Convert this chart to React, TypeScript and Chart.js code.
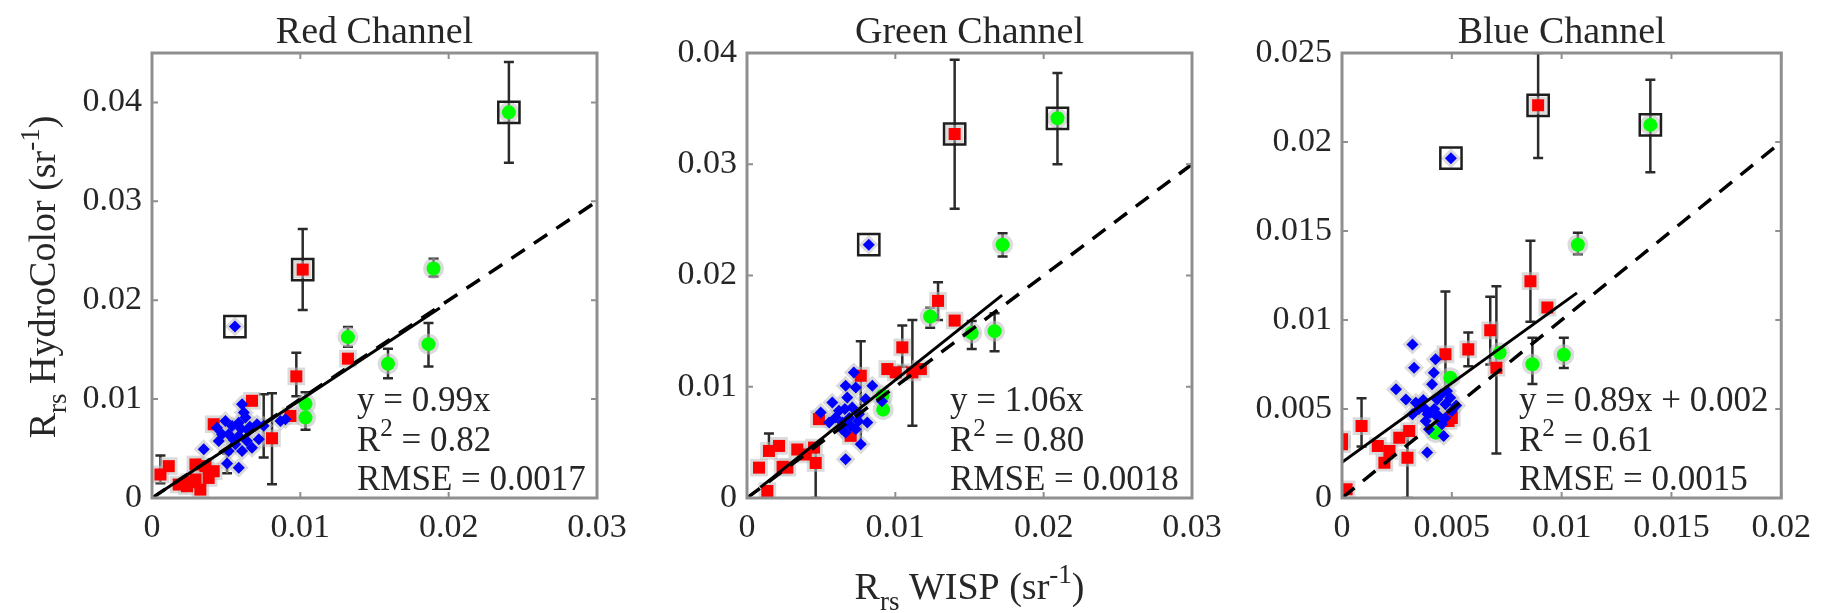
import { useEffect, useRef } from 'react';
import { Chart, registerables } from 'chart.js';

Chart.register(...registerables);

// Each point: [x, y] or [x, y, errLow, errHigh]
// ---------- Red channel panel ----------
const redBandBlue = [
  [0.00349, 0.00492], [0.00438, 0.00711], [0.00495, 0.00779], [0.00517, 0.00644],
  [0.00562, 0.00543], [0.00585, 0.00305], [0.00607, 0.00949], [0.0063, 0.00813],
  [0.00652, 0.00678], [0.00607, 0.00475], [0.00674, 0.00508], [0.00708, 0.00746],
  [0.00517, 0.00475], [0.0045, 0.00576], [0.0072, 0.00593], [0.00866, 0.00779],
  [0.009, 0.00797], [0.0054, 0.00729], [0.00472, 0.00644], [0.00585, 0.00627],
  [0.00619, 0.00864], [0.0064, 0.00576], [0.00585, 0.00762], [0.0066, 0.0072],
  [0.0055, 0.0059], [0.006, 0.007], [0.00506, 0.0035, 0.0025, 0.0045],
  [0.00753, 0.0073, 0.0041, 0.0105], [0.00559, 0.01734],
];
const redBandRed = [
  [0.00057, 0.00238, 0.0015, 0.0043], [0.00113, 0.00322], [0.0018, 0.00136],
  [0.00236, 0.00119], [0.00293, 0.00187], [0.00326, 0.00085], [0.0036, 0.00322],
  [0.00416, 0.00271], [0.00382, 0.00203], [0.00293, 0.00339], [0.0025, 0.0016],
  [0.00416, 0.00746], [0.00674, 0.00983], [0.00809, 0.00604, 0.0014, 0.0106],
  [0.00933, 0.0083], [0.00973, 0.0123, 0.0103, 0.0147], [0.01321, 0.01409],
  [0.01016, 0.0231, 0.019, 0.0272],
];
const redBandGreen = [
  [0.01035, 0.00952, 0.0069, 0.0107], [0.01035, 0.00813],
  [0.01321, 0.01627, 0.0153, 0.0173], [0.01591, 0.01357, 0.0121, 0.0151],
  [0.01864, 0.01556, 0.0133, 0.0177], [0.01898, 0.02321, 0.0224, 0.0242],
  [0.02406, 0.039, 0.0339, 0.0441],
];
const redBandOutliers = [[0.02406, 0.039], [0.01016, 0.0231], [0.00559, 0.01734]];

// ---------- Green channel panel ----------
const greenBandBlue = [
  [0.0072, 0.01129], [0.00665, 0.01009], [0.00733, 0.00994], [0.00497, 0.00768],
  [0.00575, 0.00859], [0.0062, 0.00784], [0.00676, 0.00904], [0.0071, 0.00814],
  [0.00755, 0.00754], [0.00643, 0.00679], [0.00699, 0.00649], [0.00665, 0.00589],
  [0.00811, 0.00679], [0.00845, 0.01009], [0.00767, 0.00484], [0.00665, 0.00349],
  [0.00598, 0.00723], [0.00733, 0.00619], [0.008, 0.00889], [0.00554, 0.00679],
  [0.0069, 0.0072], [0.0066, 0.008], [0.0075, 0.0069], [0.0064, 0.0062],
  [0.0091, 0.0087], [0.00821, 0.02277],
];
const greenBandRed = [
  [0.00081, 0.00273], [0.00137, 0.00063], [0.00148, 0.00423, 0.004, 0.0058],
  [0.00216, 0.00468], [0.00272, 0.00273], [0.0024, 0.0028], [0.00339, 0.00436],
  [0.00396, 0.00391], [0.00452, 0.00453], [0.00463, 0.00315, 0, 0.0049],
  [0.00485, 0.00709], [0.00699, 0.00559], [0.00767, 0.01099, 0.0049, 0.0141],
  [0.00946, 0.01159], [0.01003, 0.01129], [0.01047, 0.01354, 0.0118, 0.0155],
  [0.01115, 0.01129, 0.0065, 0.016], [0.01172, 0.01159],
  [0.01288, 0.01772, 0.016, 0.0194], [0.014, 0.01595], [0.014, 0.03272, 0.026, 0.0394],
];
const greenBandGreen = [
  [0.00913, 0.00919], [0.00918, 0.00794], [0.01235, 0.01631, 0.0153, 0.0171],
  [0.01515, 0.01483, 0.0134, 0.0159], [0.01669, 0.015, 0.0132, 0.0166],
  [0.01723, 0.02277, 0.0217, 0.0238], [0.02093, 0.03413, 0.03, 0.0382],
];
const greenBandOutliers = [[0.014, 0.03272], [0.02093, 0.03413], [0.00821, 0.02277]];

// ---------- Blue channel panel ----------
const blueBandBlue = [
  [0.00321, 0.00863], [0.00328, 0.00732], [0.00246, 0.00611], [0.00426, 0.00779],
  [0.00418, 0.00704], [0.0041, 0.00639], [0.00291, 0.00554], [0.00336, 0.00535],
  [0.00373, 0.00507], [0.00403, 0.00479], [0.0044, 0.00461], [0.00471, 0.00526],
  [0.00493, 0.00563], [0.005, 0.00489], [0.00381, 0.00433], [0.00455, 0.00414],
  [0.00321, 0.0047], [0.00396, 0.00386], [0.00463, 0.00348], [0.00388, 0.00255],
  [0.0035, 0.005], [0.00433, 0.00554], [0.00478, 0.00601], [0.0037, 0.0055],
  [0.0042, 0.005], [0.0047, 0.0045], [0.0039, 0.0047], [0.0045, 0.0058],
  [0.0043, 0.0046], [0.0052, 0.0052], [0.00496, 0.01909],
];
const blueBandRed = [
  [0, 0.00302], [0, 0.0033], [0.00089, 0.00404, 0.0029, 0.0056], [0.00021, 0.00049],
  [0.00163, 0.00292], [0.00193, 0.00198], [0.00216, 0.00264], [0.00261, 0.00339],
  [0.00306, 0.00376], [0.00298, 0.00226, 0, 0.0038], [0.00485, 0.00433], [0.005, 0.0045],
  [0.00471, 0.00807, 0.006, 0.0116], [0.00575, 0.00835, 0.0074, 0.0093],
  [0.00675, 0.00942, 0.0075, 0.0113], [0.00703, 0.00732, 0.0025, 0.0119],
  [0.00858, 0.01218, 0.0099, 0.01445], [0.00935, 0.0107],
  [0.00893, 0.02206, 0.0191, 0.025],
];
const blueBandGreen = [
  [0.00426, 0.00367], [0.00493, 0.00676], [0.00718, 0.00816],
  [0.00867, 0.00751, 0.0064, 0.009], [0.0101, 0.00805, 0.0073, 0.009],
  [0.01074, 0.01423, 0.0137, 0.0149], [0.01404, 0.02096, 0.0183, 0.0235],
];
const blueBandOutliers = [[0.00496, 0.01909], [0.00893, 0.02206], [0.01404, 0.02096]];

// ---------- Axes and fits ----------
const panelTitles = ['Red Channel', 'Green Channel', 'Blue Channel'];
const xMaxes = [0.03, 0.03, 0.02];
const yMaxes = [0.045, 0.04, 0.025];
const xSteps = [0.01, 0.01, 0.005];
const ySteps = [0.01, 0.01, 0.005];
const fitSlopes = [0.99, 1.06, 0.89];
const fitIntercepts = [0, 0, 0.002];
const fitXStart = [0.0003, 0.0009, 0];
const fitXEnd = [0.0194, 0.0172, 0.0107];
const eqLabels = ['y = 0.99x', 'y = 1.06x', 'y = 0.89x + 0.002'];
const r2Labels = ['0.82', '0.80', '0.61'];
const rmseLabels = ['0.0017', '0.0018', '0.0015'];

const panelBlue = [redBandBlue, greenBandBlue, blueBandBlue];
const panelRed = [redBandRed, greenBandRed, blueBandRed];
const panelGreen = [redBandGreen, greenBandGreen, blueBandGreen];
const panelOutliers = [redBandOutliers, greenBandOutliers, blueBandOutliers];

// ---------- Layout / style ----------
const W = 1821;
const H = 613;
const SERIF = '"Liberation Serif", "Times New Roman", serif';
const PANEL_LEFT = [152, 747, 1342];
const PANEL_SIZE = 445;
const PLOT_TOP = 53;
const PLOT_BOTTOM = 498;
const Y_AXIS_W = 90;
const X_AXIS_H = 60;
const STATS_DX = [205, 203, 177];
const STATS_BASE = [411, 451, 490];
const TEXT_COLOR = '#262626';
const FRAME_COLOR = '#8f8f8f';
const HALO = 'rgba(190,190,190,0.55)';

type Seg = [string, 'n' | 'sub' | 'sup'];

function drawRich(ctx: CanvasRenderingContext2D, segs: Seg[], size: number, x: number, y: number, align: 'left' | 'center') {
  const fontFor = (k: string) => `${k === 'n' ? size : Math.round(size * 0.7)}px ${SERIF}`;
  let total = 0;
  const widths = segs.map(([t, k]) => {
    ctx.font = fontFor(k);
    const w = ctx.measureText(t).width;
    total += w;
    return w;
  });
  let cx = align === 'center' ? x - total / 2 : x;
  ctx.textAlign = 'left';
  ctx.textBaseline = 'alphabetic';
  segs.forEach(([t, k], idx) => {
    ctx.font = fontFor(k);
    const dy = k === 'sub' ? size * 0.28 : k === 'sup' ? -size * 0.42 : 0;
    ctx.fillText(t, cx, y + dy);
    cx += widths[idx];
  });
}

const fmt = (v: any) => {
  const n = Number(v);
  return n === 0 ? '0' : String(parseFloat(n.toFixed(4)));
};

const toXY = (pts: number[][]) => pts.map((p) => ({ x: p[0], y: p[1] }));

function markerSet(pts: number[][], style: string, r: number, color: string, order: number) {
  return {
    type: 'scatter',
    data: toXY(pts),
    pointStyle: style,
    pointRadius: r,
    pointHoverRadius: r,
    pointBackgroundColor: color,
    pointBorderColor: color,
    pointBorderWidth: 0,
    showLine: false,
    order,
  };
}

function decorPlugin(i: number) {
  return {
    id: 'decor' + i,
    beforeDatasetsDraw(chart: any) {
      const { ctx, chartArea: a, scales } = chart;
      const xs = scales.x;
      const ys = scales.y;
      ctx.save();
      ctx.beginPath();
      ctx.rect(a.left, a.top, a.right - a.left, a.bottom - a.top);
      ctx.clip();
      ctx.strokeStyle = '#2b2b2b';
      ctx.lineWidth = 2.5;
      for (const set of [panelBlue[i], panelRed[i], panelGreen[i]]) {
        for (const pt of set) {
          if (pt.length < 4) continue;
          const px = xs.getPixelForValue(pt[0]);
          const lo = ys.getPixelForValue(pt[2]);
          const hi = ys.getPixelForValue(pt[3]);
          ctx.beginPath();
          ctx.moveTo(px, lo);
          ctx.lineTo(px, hi);
          ctx.moveTo(px - 5, lo);
          ctx.lineTo(px + 5, lo);
          ctx.moveTo(px - 5, hi);
          ctx.lineTo(px + 5, hi);
          ctx.stroke();
        }
      }
      ctx.restore();
    },
    afterDraw(chart: any) {
      const { ctx, chartArea: a, scales } = chart;
      const xs = scales.x;
      const ys = scales.y;
      ctx.save();
      // frame
      ctx.strokeStyle = FRAME_COLOR;
      ctx.lineWidth = 3;
      ctx.strokeRect(a.left, a.top, a.right - a.left, a.bottom - a.top);
      // inner ticks on all sides
      ctx.lineWidth = 2;
      ctx.beginPath();
      for (const t of xs.ticks) {
        const px = xs.getPixelForValue(t.value);
        ctx.moveTo(px, a.bottom);
        ctx.lineTo(px, a.bottom - 6);
        ctx.moveTo(px, a.top);
        ctx.lineTo(px, a.top + 6);
      }
      for (const t of ys.ticks) {
        const py = ys.getPixelForValue(t.value);
        ctx.moveTo(a.left, py);
        ctx.lineTo(a.left + 6, py);
        ctx.moveTo(a.right, py);
        ctx.lineTo(a.right - 6, py);
      }
      ctx.stroke();

      ctx.fillStyle = TEXT_COLOR;
      // title
      ctx.font = `38px ${SERIF}`;
      ctx.textAlign = 'center';
      ctx.textBaseline = 'alphabetic';
      ctx.fillText(panelTitles[i], (a.left + a.right) / 2, 43);

      // stats
      const sx = a.left + STATS_DX[i];
      drawRich(ctx, [[eqLabels[i], 'n']], 35, sx, STATS_BASE[0], 'left');
      drawRich(ctx, [['R', 'n'], ['2', 'sup'], [' = ' + r2Labels[i], 'n']], 35, sx, STATS_BASE[1], 'left');
      drawRich(ctx, [['RMSE = ' + rmseLabels[i], 'n']], 35, sx, STATS_BASE[2], 'left');

      // axis labels
      if (i === 0) {
        ctx.save();
        ctx.translate(55, 277);
        ctx.rotate(-Math.PI / 2);
        drawRich(ctx, [['R', 'n'], ['rs', 'sub'], [' HydroColor (sr', 'n'], ['-1', 'sup'], [')', 'n']], 38, 0, 0, 'center');
        ctx.restore();
      }
      if (i === 1) {
        drawRich(ctx, [['R', 'n'], ['rs', 'sub'], [' WISP (sr', 'n'], ['-1', 'sup'], [')', 'n']], 38, (a.left + a.right) / 2, 599, 'center');
      }
      ctx.restore();
    },
  };
}

function buildConfig(i: number): any {
  const xMax = xMaxes[i];
  const fitData = [fitXStart[i], fitXEnd[i]].map((x) => ({ x, y: fitSlopes[i] * x + fitIntercepts[i] }));
  const oneToOne = [0, xMax].map((v) => ({ x: v, y: v }));
  const blue = panelBlue[i];
  const red = panelRed[i];
  const green = panelGreen[i];
  const tickFont = { family: SERIF, size: 34 };
  return {
    type: 'scatter',
    data: {
      datasets: [
        { type: 'line', data: fitData, borderColor: '#000', borderWidth: 3, pointRadius: 0, fill: false, showLine: true, order: 0 },
        { type: 'line', data: oneToOne, borderColor: '#000', borderWidth: 3.5, borderDash: [16, 11], pointRadius: 0, fill: false, showLine: true, order: 1 },
        {
          type: 'scatter', data: toXY(panelOutliers[i]), pointStyle: 'rect', pointRadius: 15, pointHoverRadius: 15,
          pointBackgroundColor: 'rgba(0,0,0,0)', pointBorderColor: '#1e1e1e', pointBorderWidth: 2.5, order: 2,
        },
        markerSet(blue, 'rectRot', 6, '#0000ff', 3),
        markerSet(red, 'rect', 8.5, '#ff0000', 4),
        markerSet(green, 'circle', 7, '#00ff00', 5),
        markerSet(blue, 'rectRot', 10, HALO, 10),
        markerSet(red, 'rect', 12.5, HALO, 11),
        markerSet(green, 'circle', 10.5, HALO, 12),
      ],
    },
    options: {
      animation: false,
      responsive: false,
      events: [],
      layout: {
        padding: {
          left: PANEL_LEFT[i] - Y_AXIS_W,
          top: PLOT_TOP,
          right: W - (PANEL_LEFT[i] + PANEL_SIZE),
          bottom: H - PLOT_BOTTOM - X_AXIS_H,
        },
      },
      plugins: { legend: { display: false }, tooltip: { enabled: false }, title: { display: false } },
      scales: {
        x: {
          type: 'linear',
          position: 'bottom',
          min: 0,
          max: xMax,
          grid: { display: false, drawTicks: false },
          border: { display: false },
          ticks: {
            stepSize: xSteps[i], includeBounds: false, padding: 10, font: tickFont,
            color: TEXT_COLOR, callback: fmt, maxRotation: 0, autoSkip: false,
          },
          afterFit: (s: any) => { s.height = X_AXIS_H; },
        },
        y: {
          type: 'linear',
          position: 'left',
          min: 0,
          max: yMaxes[i],
          grid: { display: false, drawTicks: false },
          border: { display: false },
          ticks: {
            stepSize: ySteps[i], includeBounds: false, padding: 10, font: tickFont,
            color: TEXT_COLOR, callback: fmt, autoSkip: false,
          },
          afterFit: (s: any) => { s.width = Y_AXIS_W; },
        },
      },
    },
    plugins: [decorPlugin(i)],
  };
}

export default function App() {
  const r0 = useRef<HTMLCanvasElement>(null);
  const r1 = useRef<HTMLCanvasElement>(null);
  const r2 = useRef<HTMLCanvasElement>(null);
  const refs = [r0, r1, r2];
  useEffect(() => {
    const charts = refs.map((r, i) => new Chart(r.current as HTMLCanvasElement, buildConfig(i)));
    return () => charts.forEach((c) => c.destroy());
  }, []);
  return (
    <div style={{ position: 'fixed', left: 0, top: 0, width: W, height: H, background: '#fff', overflow: 'hidden' }}>
      {refs.map((r, i) => (
        <canvas
          key={i}
          ref={r}
          width={W}
          height={H}
          style={{ position: 'absolute', left: 0, top: 0, width: W, height: H }}
        />
      ))}
    </div>
  );
}
